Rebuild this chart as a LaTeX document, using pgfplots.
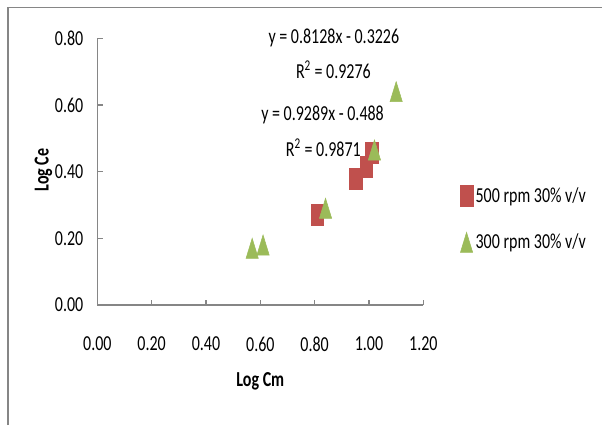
\documentclass[border=0pt]{standalone}
\usepackage{fontspec}
\setmainfont{Carlito}[FakeStretch=0.75]
\usepackage{pgfplots}
\pgfplotsset{compat=1.18}
\definecolor{exred}{HTML}{C0504D}
\definecolor{exgreen}{HTML}{9BBB59}
\definecolor{axgray}{HTML}{868686}
\begin{document}
\begin{tikzpicture}[font=\fontsize{16}{19}\selectfont]
\path[use as bounding box] (0,0) rectangle (451.5pt,318.75pt);
\draw[axgray, line width=1.1pt] (6pt,0) -- (6pt,313.1pt) -- (451.5pt,313.1pt);
\begin{axis}[
  at={(73pt,90pt)}, anchor=south west,
  scale only axis, width=244.5pt, height=200pt,
  xmin=0, xmax=1.2, ymin=0, ymax=0.8,
  xtick={0,0.2,...,1.2}, ytick={0,0.2,...,0.8},
  axis x line*=bottom, axis y line*=left,
  axis line style={axgray, line width=1pt, -},
  tick style={axgray, line width=1pt},
  tick align=inside, major tick length=4pt,
  /pgf/number format/assume math mode=true,
  /pgf/number format/.cd, fixed, fixed zerofill, precision=2, /pgfplots/.cd,
  xticklabel style={yshift=-20.5pt},
  yticklabel style={xshift=-7pt},
  clip=false,
  xlabel={\bfseries Log Cm}, ylabel={\bfseries Log Ce},
  xlabel style={at={(axis description cs:0.5,-0.2876)}, anchor=center},
  ylabel style={at={(axis description cs:-0.1656,0.506)}, anchor=center},
  legend style={at={(axis description cs:1.10,0.3225)}, anchor=west, draw=none, fill=none,
    row sep=18.5pt, nodes={inner sep=2pt}},
  legend cell align=left,
  legend image code/.code={\draw[#1] plot coordinates {(0.2cm,0cm)};},
]
\addplot[only marks, mark=square*, mark size=7.875pt, color=exred,
  mark options={xscale=0.605, draw=exred, fill=exred}]
  coordinates {(0.81,0.27) (0.95,0.38) (0.99,0.415) (1.01,0.457)};
\addlegendentry{500 rpm 30\% v/v}
\addplot[only marks, mark=triangle*, mark size=10pt, color=exgreen,
  mark options={xscale=0.53, yshift=-2.5pt, draw=exgreen, fill=exgreen}]
  coordinates {(0.57,0.17) (0.61,0.18) (0.84,0.29) (1.02,0.465) (1.10,0.64)};
\addlegendentry{300 rpm 30\% v/v}
\node[anchor=center] at (axis cs:0.8706,0.80) {y = 0.8128x - 0.3226};
\node[anchor=center] at (axis cs:0.869,0.705) {R\textsuperscript{2} = 0.9276};
\node[anchor=center] at (axis cs:0.829,0.57) {y = 0.9289x - 0.488};
\node[anchor=center] at (axis cs:0.832,0.472) {R\textsuperscript{2} = 0.9871};
\end{axis}
\end{tikzpicture}
\end{document}
